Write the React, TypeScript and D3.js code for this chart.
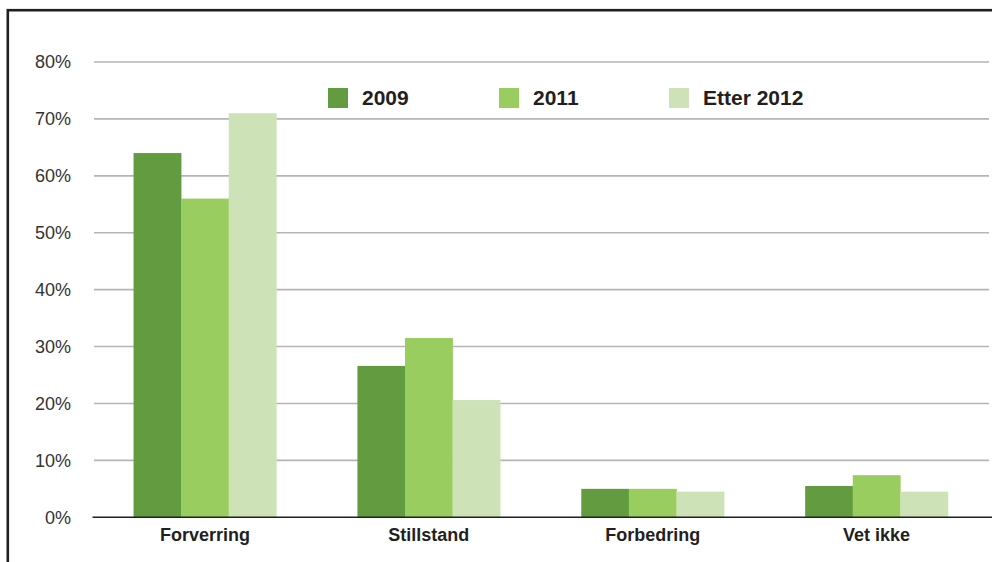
import React from "react";
import * as d3 from "d3";

const categories = ["Forverring", "Stillstand", "Forbedring", "Vet ikke"];
const seriesNames = ["2009", "2011", "Etter 2012"];
const values2009 = [64, 26.6, 5, 5.5];
const values2011 = [56, 31.5, 5, 7.4];
const valuesEtter2012 = [71, 20.6, 4.5, 4.5];
const yTicks = [0, 10, 20, 30, 40, 50, 60, 70, 80];
const colors = ["#639c40", "#99cd5f", "#cde3b7"];

const W = 992;
const H = 562;
const plotLeft = 94;
const plotRight = 989;
const yZero = 517.3;
const yTop = 62;

export default function App() {
  const series = [values2009, values2011, valuesEtter2012];
  const x = d3.scaleBand<string>().domain(categories).range([93, 988.5]).paddingInner(0).paddingOuter(0);
  const groupWidth = 142.8;
  const xInner = d3
    .scaleBand<string>()
    .domain(seriesNames)
    .range([0, groupWidth])
    .padding(0);
  const y = d3.scaleLinear().domain([0, 80]).range([yZero, yTop]);
  const font = "'Liberation Sans', Arial, Helvetica, sans-serif";
  const textColor = "#231f20";
  const legendX = [328, 499, 669];

  return (
    <svg
      width={W}
      height={H}
      style={{ position: "absolute", left: 0, top: 0, display: "block", background: "#fff" }}
      fontFamily={font}
    >
      <rect x={0} y={0} width={W} height={H} fill="#fff" />
      <rect x={7.8} y={10.2} width={1100} height={700} fill="none" stroke="#231f20" strokeWidth={2.6} />
      {yTicks.map((t) => (
        <g key={t}>
          {t > 0 && (
            <line x1={plotLeft} x2={plotRight} y1={y(t)} y2={y(t)} stroke="#b5b5b5" strokeWidth={1.6} />
          )}
          <text
            x={71}
            y={y(t)}
            dy="0.36em"
            textAnchor="end"
            fontSize={18}
            fill="#333"
          >
            {t}%
          </text>
        </g>
      ))}
      {categories.map((c, ci) => {
        const gx = (x(c) as number) + (x.bandwidth() - groupWidth) / 2;
        return (
          <g key={c}>
            {series.map((s, si) => (
              <rect
                key={si}
                x={gx + (xInner(seriesNames[si]) as number)}
                y={y(s[ci])}
                width={xInner.bandwidth() + 0.3}
                height={yZero - y(s[ci])}
                fill={colors[si]}
              />
            ))}
            <text
              x={(x(c) as number) + x.bandwidth() / 2}
              y={541}
              textAnchor="middle"
              fontSize={18}
              fontWeight="bold"
              fill={textColor}
            >
              {c}
            </text>
          </g>
        );
      })}
      <line x1={92.5} x2={plotRight + 3} y1={yZero} y2={yZero} stroke="#231f20" strokeWidth={1.6} />
      {seriesNames.map((n, i) => (
        <g key={n}>
          <rect x={legendX[i]} y={88} width={20} height={20} fill={colors[i]} />
          <text x={legendX[i] + 34} y={104.5} fontSize={21} fontWeight="bold" fill={textColor}>
            {n}
          </text>
        </g>
      ))}
    </svg>
  );
}
